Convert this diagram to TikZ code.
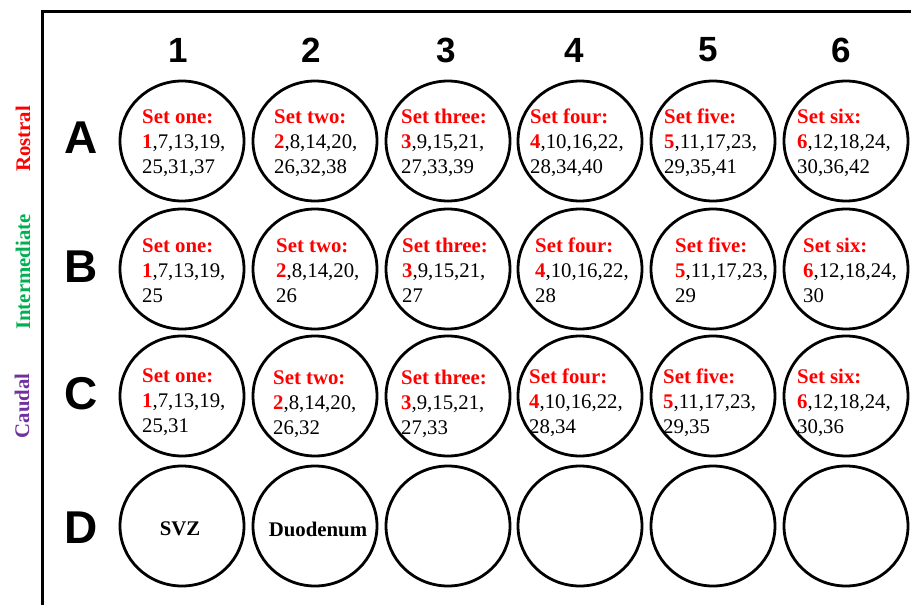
\documentclass[tikz,border=0pt]{standalone}
\usepackage{fontspec}
\setmainfont{Liberation Serif}
\newfontfamily\arialf{Liberation Sans}
\usetikzlibrary{shapes.geometric}
\definecolor{setred}{HTML}{FF0000}
\definecolor{intgreen}{HTML}{00B050}
\definecolor{caupurple}{HTML}{7030A0}
% #1 name, #2 text left x, #3 first baseline y, #4 title, #5 digit, #6 rest of line 2, #7 line 3
\newcommand{\setcell}[7]{%
  \node[txt, anchor=base west] (#1t) at (#2,#3) {\textcolor{setred}{\bfseries #4}};
  \node[txt, anchor=base west] (#1n) at (#2,#3+25.5) {\textcolor{setred}{\bfseries #5}#6};
  \node[txt, anchor=base west] (#1m) at (#2,#3+50.5) {#7};
}
\begin{document}
\begin{tikzpicture}[x=1pt,y=-1pt,
  well/.style={draw, line width=2.8pt, ellipse, minimum width=124pt, minimum height=120pt, inner sep=0pt},
  txt/.style={inner sep=0pt, font=\fontsize{20.8}{25}\selectfont},
  hdr/.style={inner sep=0pt, font=\arialf\bfseries\fontsize{35}{40}\selectfont},
  rowl/.style={inner sep=0pt, font=\arialf\bfseries\fontsize{46}{50}\selectfont},
  side/.style={inner sep=0pt, rotate=90, font=\bfseries\fontsize{20.8}{24}\selectfont},
  frame/.style={line width=3pt}
]
\useasboundingbox (0,0) rectangle (911,605);
% frame
\coordinate (fb) at (42,607);
\coordinate (fc) at (42,11);
\coordinate (fr) at (913,11);
\draw[frame] (fb) -- (fc) -- (fr);
% wells
\foreach \c/\x in {1/182,2/315,3/448,4/580,5/713,6/846}{
  \foreach \r/\y in {A/141,B/269,C/396,D/526}{
    \node[well] (w\r\c) at (\x,\y) {};
  }
}
% column headers
\foreach \c/\x in {1/178,2/311,3/446,4/574,5/708,6/841}{
  \node[hdr] (h\c) at (\x,50) {\c};
}
% row letters
\foreach \r/\y in {A/138,B/267,C/394,D/528}{
  \node[rowl] (r\r) at (81,\y) {\r};
}
% side labels
\node[side, text=setred] (rostral) at (23,139) {Rostral};
\node[side, text=intgreen] (interm) at (23,272) {Intermediate};
\node[side, text=caupurple] (caudal) at (22,406) {Caudal};
% row A
\setcell{a1}{142}{123}{Set one:}{1}{,7,13,19,}{25,31,37}
\setcell{a2}{274}{123}{Set two:}{2}{,8,14,20,}{26,32,38}
\setcell{a3}{401}{123}{Set three:}{3}{,9,15,21,}{27,33,39}
\setcell{a4}{530}{123}{Set four:}{4}{,10,16,22,}{28,34,40}
\setcell{a5}{664}{123}{Set five:}{5}{,11,17,23,}{29,35,41}
\setcell{a6}{797}{123}{Set six:}{6}{,12,18,24,}{30,36,42}
% row B
\setcell{b1}{142}{252}{Set one:}{1}{,7,13,19,}{25}
\setcell{b2}{276}{252}{Set two:}{2}{,8,14,20,}{26}
\setcell{b3}{402}{252}{Set three:}{3}{,9,15,21,}{27}
\setcell{b4}{535}{252}{Set four:}{4}{,10,16,22,}{28}
\setcell{b5}{675}{252}{Set five:}{5}{,11,17,23,}{29}
\setcell{b6}{803}{252}{Set six:}{6}{,12,18,24,}{30}
% row C
\setcell{c1}{142}{382}{Set one:}{1}{,7,13,19,}{25,31}
\setcell{c2}{273}{384}{Set two:}{2}{,8,14,20,}{26,32}
\setcell{c3}{401}{384}{Set three:}{3}{,9,15,21,}{27,33}
\setcell{c4}{529}{383}{Set four:}{4}{,10,16,22,}{28,34}
\setcell{c5}{663}{383}{Set five:}{5}{,11,17,23,}{29,35}
\setcell{c6}{797}{383}{Set six:}{6}{,12,18,24,}{30,36}
% row D
\node[txt, font=\bfseries\fontsize{20.8}{25}\selectfont] (svz) at (180,528.5) {SVZ};
\node[txt, font=\bfseries\fontsize{20.8}{25}\selectfont] (duo) at (318,529.5) {Duodenum};
\end{tikzpicture}
\end{document}
